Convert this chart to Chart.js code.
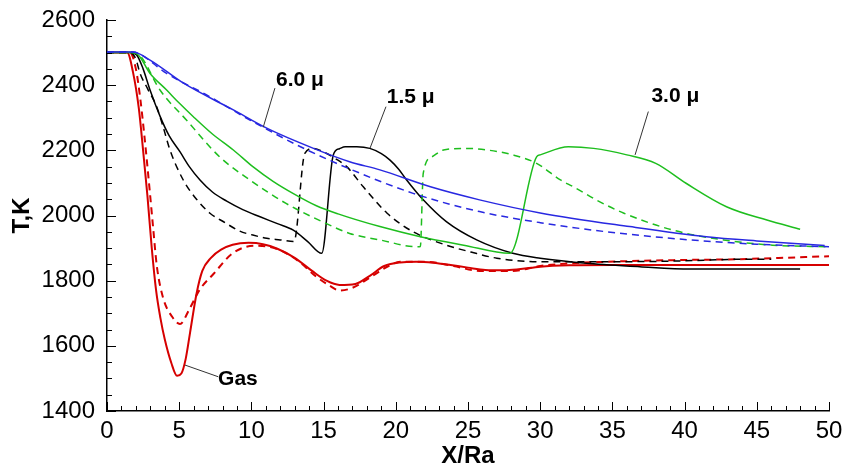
<!DOCTYPE html>
<html lang="en">
<head>
    <meta charset="UTF-8">
    <title>T,K vs X/Ra</title>
    <style>
        html, body { margin: 0; padding: 0; background: #fff; }
        #wrap { width: 845px; height: 468px; }
    </style>
    <script src="https://cdn.jsdelivr.net/npm/chart.js"></script>
</head>
<body>
    <div id="wrap"><canvas id="tempChart" width="845" height="468"></canvas></div>
    <script>
        // Gas temperature (red)
        const gasSolidX = [0, 1.4, 1.8, 2.2, 2.5, 2.8, 3.1, 3.4, 3.7, 4.0, 4.45, 4.85, 5.15, 5.45, 5.75, 6.2, 6.6, 7.2, 7.9, 8.7, 9.8, 10.8, 11.8, 13.0, 14.2, 15.2, 16.1, 17.2, 18.2, 19.2, 20.3, 21.4, 22.6, 23.8, 25.0, 26.2, 27.5, 28.5, 30.0, 32.0, 35, 40, 45, 50];
        const gasSolidT = [2500, 2500, 2440, 2330, 2200, 2060, 1900, 1770, 1685, 1620, 1548, 1508, 1515, 1560, 1640, 1760, 1830, 1870, 1895, 1910, 1916, 1912, 1898, 1870, 1830, 1800, 1787, 1790, 1815, 1845, 1856, 1858, 1855, 1848, 1840, 1833, 1832, 1835, 1843, 1847, 1848, 1848, 1848, 1848];
        const gasDashX = [0, 1.6, 2.0, 2.3, 2.6, 2.95, 3.2, 3.45, 3.9, 4.5, 5.05, 5.7, 6.4, 7.4, 8.7, 10.2, 11.2, 12.2, 13.4, 14.5, 15.4, 16.1, 17.0, 18.4, 19.5, 20.3, 22.1, 24.0, 25.8, 28.1, 30.0, 32, 34.6, 39.2, 43.8, 50];
        const gasDashT = [2500, 2500, 2450, 2360, 2240, 2080, 1960, 1845, 1745, 1690, 1667, 1712, 1771, 1822, 1884, 1907, 1904, 1889, 1855, 1812, 1785, 1770, 1778, 1815, 1845, 1858, 1858, 1845, 1830, 1830, 1845, 1853, 1858, 1863, 1866, 1875];

        // 1.5 micron particles (black)
        const p15SolidX = [0, 1.6, 2.05, 2.5, 2.98, 3.67, 4.3, 5.06, 5.7, 6.44, 7.3, 8.29, 9.4, 10.6, 11.8, 12.9, 13.9, 14.87, 15.67, 16.1, 16.5, 17.3, 18.2, 19.0, 19.6, 20.2, 20.75, 21.9, 23.5, 25.6, 28.1, 30.0, 33.4, 36.9, 40.4, 48];
        const p15SolidT = [2500, 2500, 2493, 2450, 2385, 2305, 2245, 2195, 2150, 2109, 2072, 2044, 2018, 1996, 1975, 1955, 1920, 1884, 2186, 2205, 2211, 2211, 2206, 2190, 2170, 2142, 2109, 2048, 1981, 1925, 1884, 1869, 1853, 1843, 1836, 1836];
        const p15DashX = [0, 1.6, 2.0, 2.29, 2.8, 3.44, 3.9, 4.36, 5.28, 6.2, 7.13, 8.1, 9.2, 10.1, 11.06, 12.0, 12.95, 13.7, 14.3, 15.0, 15.8, 16.6, 17.75, 19.4, 21.2, 23.5, 25.2, 27.0, 30.4, 34.6, 39.2, 44.5, 46];
        const p15DashT = [2500, 2500, 2480, 2436, 2390, 2334, 2270, 2201, 2109, 2050, 2007, 1980, 1952, 1940, 1930, 1925, 1920, 2191, 2206, 2195, 2175, 2150, 2088, 2007, 1950, 1909, 1888, 1869, 1858, 1858, 1860, 1866, 1866];

        // 3.0 micron particles (green)
        const p30SolidX = [0, 1.6, 2.05, 2.98, 4.13, 5.0, 5.98, 7.3, 8.75, 10.1, 11.5, 13.0, 14.5, 16.0, 18.9, 21.7, 24.7, 27.9, 29.75, 30.0, 31.95, 33.7, 36.0, 38.0, 40.1, 42.9, 45.7, 48.0];
        const p30SolidT = [2500, 2500, 2497, 2436, 2385, 2345, 2303, 2250, 2201, 2150, 2105, 2065, 2030, 2005, 1966, 1935, 1909, 1884, 2180, 2186, 2211, 2206, 2186, 2160, 2099, 2027, 1986, 1958];
        const p30DashX = [0, 1.6, 2.29, 3.67, 5.5, 7.8, 9.9, 12.4, 15.2, 16.8, 18.9, 21.5, 21.7, 21.9, 22.5, 23.3, 24.9, 26.5, 28.1, 29.75, 31.4, 32.3, 34.0, 35.8, 39.2, 42.7, 46.1, 50];
        const p30DashT = [2500, 2500, 2490, 2385, 2293, 2180, 2109, 2037, 1975, 1945, 1925, 1904, 1905, 2129, 2180, 2201, 2206, 2200, 2186, 2160, 2109, 2088, 2045, 2007, 1955, 1925, 1909, 1904];

        // 6.0 micron particles (blue)
        const p60SolidX = [0, 1.8, 2.98, 5.3, 8.75, 11.06, 14.3, 16.8, 18.9, 22.4, 25.8, 30.0, 36.2, 41.5, 45, 49.7];
        const p60SolidT = [2502, 2502, 2477, 2406, 2324, 2268, 2206, 2165, 2140, 2088, 2048, 2008, 1966, 1935, 1922, 1908];
        const p60DashX = [0, 1.8, 2.29, 4.13, 6.9, 9.9, 13.4, 16.7, 21.2, 25.8, 30.0, 34.6, 40.4, 45, 50];
        const p60DashT = [2502, 2502, 2495, 2436, 2370, 2293, 2211, 2145, 2068, 2012, 1978, 1950, 1925, 1912, 1904];

        // curve labels: text, text position, leader line from -> to (data units)
        const labelTexts = ['6.0 μ', '1.5 μ', '3.0 μ', 'Gas'];
        const labelPos = [[11.7, 2397], [19.37, 2345], [37.7, 2349], [7.69, 1480]];
        const leaderFrom = [[11.63, 2391], [19.32, 2334], [37.49, 2319], [7.71, 1505]];
        const leaderTo = [[10.82, 2271], [18.21, 2206], [36.57, 2186], [5.4, 1541]];

        const RED = 'rgb(214,0,0)';
        const BLACK = '#000000';
        const GREEN = 'rgb(30,190,30)';
        const BLUE = 'rgb(40,40,225)';
        const DASH = [7, 5];
        const FONT = '"Liberation Sans", Arial, sans-serif';

        function pts(xs, ys) {
            return xs.map((x, i) => ({ x: x, y: ys[i] }));
        }

        function series(xs, ys, color, dashed) {
            return {
                data: pts(xs, ys),
                borderColor: color,
                borderWidth: color === RED ? 2 : 1.5,
                borderDash: dashed ? DASH : [],
                pointRadius: 0,
                fill: false,
                cubicInterpolationMode: 'monotone'
            };
        }

        // tick marks drawn inward, like the original, plus curve labels
        const innerTicks = {
            id: 'innerTicks',
            afterDatasetsDraw(chart) {
                const ctx = chart.ctx;
                const xs = chart.scales.x, ys = chart.scales.y;
                const area = chart.chartArea;
                ctx.save();
                ctx.strokeStyle = '#000';
                ctx.lineWidth = 1;
                ctx.beginPath();
                for (let v = 0; v <= 50; v += 1) {
                    const px = Math.round(xs.getPixelForValue(v)) + 0.5;
                    const len = v % 5 === 0 ? 9 : 5;
                    ctx.moveTo(px, area.bottom);
                    ctx.lineTo(px, area.bottom - len);
                }
                for (let v = 1400; v <= 2600; v += 50) {
                    const py = Math.round(ys.getPixelForValue(v)) + 0.5;
                    const len = v % 200 === 0 ? 9 : 5;
                    ctx.moveTo(area.left, py);
                    ctx.lineTo(area.left + len, py);
                }
                ctx.stroke();

                ctx.strokeStyle = '#333';
                ctx.lineWidth = 1;
                ctx.beginPath();
                leaderFrom.forEach((f, i) => {
                    ctx.moveTo(xs.getPixelForValue(f[0]), ys.getPixelForValue(f[1]));
                    ctx.lineTo(xs.getPixelForValue(leaderTo[i][0]), ys.getPixelForValue(leaderTo[i][1]));
                });
                ctx.stroke();
                ctx.fillStyle = '#000';
                ctx.font = 'bold 21px ' + FONT;
                ctx.textAlign = 'left';
                ctx.textBaseline = 'alphabetic';
                labelTexts.forEach((t, i) => {
                    ctx.fillText(t, xs.getPixelForValue(labelPos[i][0]), ys.getPixelForValue(labelPos[i][1]));
                });
                ctx.restore();
            }
        };

        const ctx = document.getElementById('tempChart').getContext('2d');
        new Chart(ctx, {
            type: 'line',
            data: {
                datasets: [
                    series(p60SolidX, p60SolidT, BLUE, false),
                    series(p60DashX, p60DashT, BLUE, true),
                    series(p30SolidX, p30SolidT, GREEN, false),
                    series(p30DashX, p30DashT, GREEN, true),
                    series(p15SolidX, p15SolidT, BLACK, false),
                    series(p15DashX, p15DashT, BLACK, true),
                    series(gasDashX, gasDashT, RED, true),
                    series(gasSolidX, gasSolidT, RED, false)
                ]
            },
            options: {
                responsive: false,
                animation: false,
                devicePixelRatio: 1,
                layout: { padding: { left: 0, top: 20, right: 16, bottom: 0 } },
                plugins: {
                    legend: { display: false },
                    tooltip: { enabled: false }
                },
                scales: {
                    x: {
                        type: 'linear',
                        min: 0,
                        max: 50,
                        grid: { display: false },
                        border: { display: true, color: '#000', width: 1.5 },
                        ticks: {
                            stepSize: 5,
                            padding: 0,
                            color: '#000',
                            maxRotation: 0,
                            callback: v => String(v),
                            font: { family: FONT, size: 24, lineHeight: 1 }
                        },
                        title: {
                            display: true,
                            text: 'X/Ra',
                            color: '#000',
                            padding: { top: 0, bottom: 0 },
                            font: { family: FONT, size: 24, weight: 'bold', lineHeight: 1 }
                        },
                        afterFit(scale) { scale.height = 57; }
                    },
                    y: {
                        type: 'linear',
                        min: 1400,
                        max: 2600,
                        grid: { display: false },
                        border: { display: true, color: '#000', width: 1.5 },
                        ticks: {
                            stepSize: 200,
                            padding: 4,
                            color: '#000',
                            callback: v => String(v),
                            font: { family: FONT, size: 24 }
                        },
                        title: {
                            display: true,
                            text: 'T,K',
                            color: '#000',
                            padding: { top: 8, bottom: 0 },
                            font: { family: FONT, size: 24, weight: 'bold' }
                        },
                        afterFit(scale) { scale.width = 107; }
                    }
                }
            },
            plugins: [innerTicks]
        });
    </script>
</body>
</html>
